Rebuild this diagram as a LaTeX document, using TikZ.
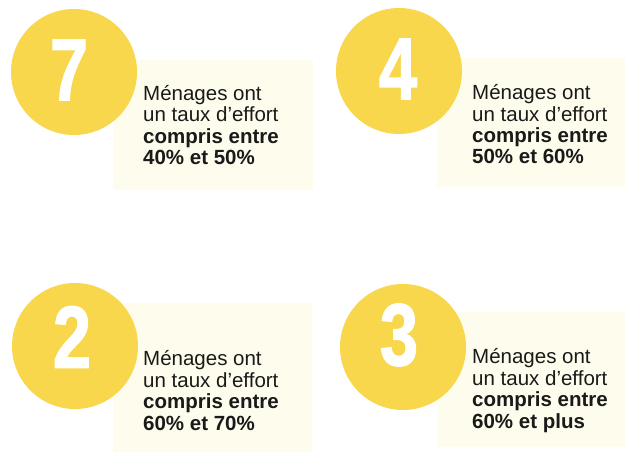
\documentclass[tikz,border=0pt]{standalone}
\usepackage{fontspec}
\setmainfont{Liberation Sans}
\newfontfamily\digitfont[FakeBold=1.6]{Liberation Sans Bold}
\definecolor{disc}{HTML}{F8D74C}
\definecolor{pale}{HTML}{FEFCEC}
\definecolor{ink}{HTML}{1A1A1A}
\tikzset{
  panel/.style={fill=pale, draw=none},
  badge/.style={circle, fill=disc, minimum size=126pt, inner sep=0pt},
  digit/.style={text=white, font=\fontsize{88}{88}\selectfont\digitfont\bfseries, xscale=0.78, inner sep=0pt},
  caption/.style={anchor=base west, align=left, inner sep=0pt, text=ink,
    font=\fontsize{20.5}{21.5}\selectfont},
}
\begin{document}
\begin{tikzpicture}[x=1pt,y=-1pt]
\useasboundingbox (0,0) rectangle (625,452);
\fill[white] (0,0) rectangle (625,452);
% pale panels
\path[panel] (113,60) rectangle (313,190);
\path[panel] (437,58) rectangle (625,187);
\path[panel] (113,303) rectangle (312,452);
\path[panel] (437,312) rectangle (625,447);
% badges
\node[badge] (b7) at (74,72) {};
\node[badge] (b4) at (399,71) {};
\node[badge] (b2) at (75,346) {};
\node[badge] (b3) at (403,347) {};
\node[digit] (d7) at (69,70) {7};
\node[digit] (d4) at (398,69) {4};
\node[digit] (d2) at (72,337) {2};
\node[digit] (d3) at (399,335) {3};
% captions (anchored at the baseline of the last line)
\node[caption] (t7) at (143,164.5) {Ménages ont\\un taux d’effort\\\textbf{compris entre}\\\textbf{40\% et 50\%}};
\node[caption] (t4) at (472,164) {Ménages ont\\un taux d’effort\\\textbf{compris entre}\\\textbf{50\% et 60\%}};
\node[caption] (t2) at (143,430) {Ménages ont\\un taux d’effort\\\textbf{compris entre}\\\textbf{60\% et 70\%}};
\node[caption] (t3) at (472,428) {Ménages ont\\un taux d'effort\\\textbf{compris entre}\\\textbf{60\% et plus}};
\end{tikzpicture}
\end{document}
